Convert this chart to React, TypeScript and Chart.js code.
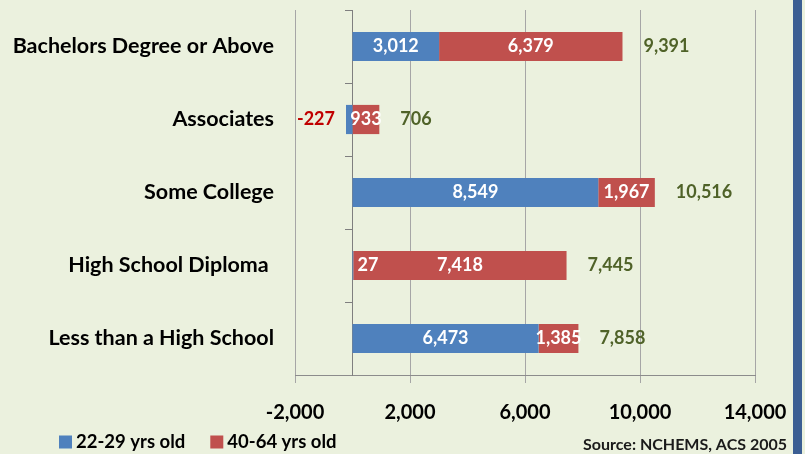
import React, { useEffect, useRef } from 'react';
import { Chart, registerables } from 'chart.js';

Chart.register(...registerables);

const CATEGORIES = [
  'Bachelors Degree or Above',
  'Associates',
  'Some College',
  'High School Diploma ',
  'Less than a High School',
];
const YOUNG = [3012, -227, 8549, 27, 6473];
const OLDER = [6379, 933, 1967, 7418, 1385];
const TOTALS = [9391, 706, 10516, 7445, 7858];
const SERIES_NAMES = ['22-29 yrs old', '40-64 yrs old'];
const SERIES_COLORS = ['#4F81BD', '#C0504D'];
const X_MIN = -2000;
const X_MAX = 14000;
const X_STEP = 4000;
const SOURCE = 'Source: NCHEMS, ACS 2005';

const FONT = 'Lato, "Open Sans", sans-serif';
const fmt = (v: number) => v.toLocaleString('en-US');

const zeroPad = (s: any) => {
  s.paddingTop = 0;
  s.paddingBottom = 0;
  s.paddingLeft = 0;
  s.paddingRight = 0;
};

const labelPlugin = {
  id: 'barLabels',
  afterDatasetsDraw(chart: any) {
    const ctx = chart.ctx;
    ctx.save();
    ctx.font = `bold 18px ${FONT}`;
    ctx.textBaseline = 'middle';
    const n = chart.data.labels.length;
    for (let i = 0; i < n; i++) {
      let end = -Infinity;
      let y = 0;
      chart.data.datasets.forEach((ds: any, di: number) => {
        const el = chart.getDatasetMeta(di).data[i];
        const v = ds.data[i];
        const text = fmt(v);
        y = el.y;
        const w = Math.abs(el.x - el.base);
        if (v < 0) {
          ctx.fillStyle = '#C00000';
          ctx.textAlign = 'right';
          ctx.fillText(text, Math.min(el.x, el.base) - 11, el.y);
        } else if (w < 5) {
          ctx.fillStyle = '#FFFFFF';
          ctx.textAlign = 'left';
          ctx.fillText(text, el.base + 5, el.y);
        } else {
          ctx.fillStyle = '#FFFFFF';
          ctx.textAlign = 'center';
          ctx.fillText(text, (el.x + el.base) / 2, el.y);
        }
        end = Math.max(end, el.x, el.base);
      });
      ctx.fillStyle = '#4F6228';
      ctx.textAlign = 'left';
      ctx.fillText(fmt(TOTALS[i]), end + 21, y);
    }
    ctx.restore();
  },
  afterDraw(chart: any) {
    const ctx = chart.ctx;
    ctx.save();
    ctx.textBaseline = 'middle';
    ctx.font = `bold 18.5px ${FONT}`;
    let x = 59;
    const ly = 442;
    chart.data.datasets.forEach((ds: any) => {
      ctx.fillStyle = ds.backgroundColor;
      ctx.fillRect(x, ly - 6.5, 13, 13);
      ctx.fillStyle = '#000000';
      ctx.textAlign = 'left';
      ctx.fillText(ds.label, x + 17, ly);
      x += 17 + ctx.measureText(ds.label).width + 25;
    });
    ctx.font = `bold 16px ${FONT}`;
    ctx.fillStyle = '#1A1A1A';
    ctx.textAlign = 'right';
    ctx.fillText(SOURCE, 787, 445);
    ctx.restore();
  },
};

export default function App() {
  const ref = useRef<HTMLCanvasElement | null>(null);

  useEffect(() => {
    if (!ref.current) return;
    const chart = new Chart(ref.current, {
      type: 'bar',
      data: {
        labels: CATEGORIES,
        datasets: [
          { label: SERIES_NAMES[0], data: YOUNG, backgroundColor: SERIES_COLORS[0], borderWidth: 0 },
          { label: SERIES_NAMES[1], data: OLDER, backgroundColor: SERIES_COLORS[1], borderWidth: 0 },
        ],
      },
      options: {
        indexAxis: 'y',
        responsive: false,
        animation: false,
        categoryPercentage: 1,
        barPercentage: 0.4,
        layout: { padding: { top: 10, right: 38, left: 0, bottom: 0 } },
        plugins: { legend: { display: false }, tooltip: { enabled: false } },
        scales: {
          x: {
            type: 'linear',
            stacked: true,
            min: X_MIN,
            max: X_MAX,
            ticks: {
              stepSize: X_STEP,
              color: '#000000',
              font: { family: FONT, size: 20, weight: 'bold' },
              padding: 18,
              callback: (v: any) => fmt(Number(v)),
            },
            grid: { color: '#A6A6A6', tickLength: 8, lineWidth: 1 },
            border: { color: '#8C8C8C' },
            afterFit: (s: any) => { s.height = 79; zeroPad(s); },
          },
          y: {
            type: 'category',
            stacked: true,
            ticks: {
              color: '#000000',
              font: { family: FONT, size: 21.5, weight: 'bold' },
              padding: 21,
            },
            grid: { display: false, drawTicks: false },
            border: { display: false },
            afterFit: (s: any) => { s.width = 295; zeroPad(s); },
          },
          y2: {
            type: 'category',
            axis: 'y',
            position: { x: 0 },
            offset: true,
            ticks: { display: false },
            grid: { offset: true, drawOnChartArea: false, drawTicks: true, tickLength: 7, color: '#7F7F7F' },
            border: { color: '#7F7F7F' },
            afterFit: (s: any) => { s.width = 0; zeroPad(s); },
          },
        },
      } as any,
      plugins: [labelPlugin],
    });
    return () => chart.destroy();
  }, []);

  return (
    <div style={{ position: 'fixed', left: 0, top: 0, width: 805, height: 454, background: '#EBF1DE', overflow: 'hidden' }}>
      <canvas ref={ref} width={793} height={454} style={{ position: 'absolute', left: 0, top: 0 }} />
      <div style={{ position: 'absolute', left: 793, top: 0, width: 9, height: 454, background: '#3B5E93' }} />
    </div>
  );
}
